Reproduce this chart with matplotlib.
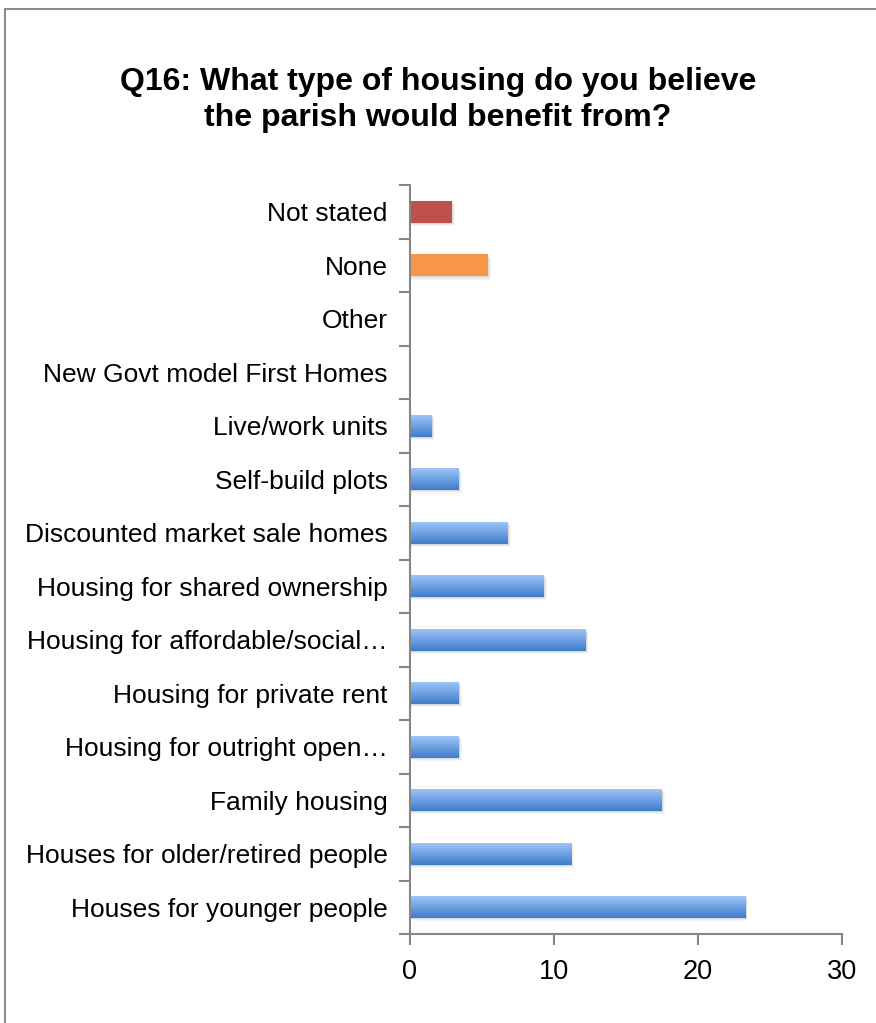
import matplotlib.pyplot as plt
import numpy as np
from matplotlib.patches import Rectangle

plt.rcParams['font.family'] = ['Liberation Sans', 'DejaVu Sans']

categories = [
    "Houses for younger people",
    "Houses for older/retired people",
    "Family housing",
    "Housing for outright open…",
    "Housing for private rent",
    "Housing for affordable/social…",
    "Housing for shared ownership",
    "Discounted market sale homes",
    "Self-build plots",
    "Live/work units",
    "New Govt model First Homes",
    "Other",
    "None",
    "Not stated",
]
values = [23.3, 11.2, 17.5, 3.4, 3.4, 12.2, 9.3, 6.8, 3.4, 1.5, 0, 0, 5.4, 2.9]
bar_colors = ["blue"] * 12 + ["#F79646", "#C0504D"]

axis_grey = "#868686"

fig = plt.figure(figsize=(8.76, 10.23), dpi=100)
ax = fig.add_axes([0.468, 0.087, 0.493, 0.732])

# outer chart frame (runs off the right and bottom edges)
fig.patches.append(Rectangle((5 / 876, -0.05), 1.1, 1 - 9 / 1023 + 0.05,
                             transform=fig.transFigure, fill=False,
                             edgecolor="#8c8c8c", linewidth=1.5))

y = np.arange(len(categories))
h = 0.41

# blue vertical gradient for the main series
grad = np.linspace(0, 1, 64).reshape(-1, 1)
top = np.array([0.62, 0.77, 0.97])
bottom = np.array([0.24, 0.49, 0.80])
grad_img = top + (bottom - top) * grad[..., None]

for yi, v, c in zip(y, values, bar_colors):
    if v <= 0:
        continue
    # soft drop shadow
    for k, a in enumerate([0.07, 0.05, 0.03]):
        ax.add_patch(Rectangle((0, yi - h / 2 - 0.02 - 0.02 * k), v + 0.08 + 0.06 * k, h,
                               facecolor="black", alpha=a, edgecolor="none", zorder=1))
    if c == "blue":
        bar = ax.barh(yi, v, height=h, color="none", edgecolor="none", zorder=2)[0]
        im = ax.imshow(grad_img, extent=(0, v, yi - h / 2, yi + h / 2),
                       aspect="auto", origin="upper", zorder=2)
        im.set_clip_path(bar)
    else:
        ax.barh(yi, v, height=h, color=c, edgecolor="none", zorder=2)

ax.set_xlim(0, 30)
ax.set_ylim(-0.5, len(categories) - 0.5)
ax.set_xticks([0, 10, 20, 30])
ax.set_yticks(y)
ax.set_yticklabels(categories)
ax.set_yticks(np.arange(-0.5, len(categories), 1), minor=True)
ax.tick_params(axis="y", which="major", length=0, pad=16, labelsize=19)
ax.tick_params(axis="y", which="minor", length=8, width=1.5, color=axis_grey)
ax.tick_params(axis="x", length=8, width=1.5, color=axis_grey, labelsize=19.5, pad=10)

for s in ["top", "right"]:
    ax.spines[s].set_visible(False)
for s in ["left", "bottom"]:
    ax.spines[s].set_color(axis_grey)
    ax.spines[s].set_linewidth(1.5)

fig.text(0.5, 0.902, "Q16: What type of housing do you believe\nthe parish would benefit from?",
         ha="center", va="center", fontsize=23, fontweight="bold", linespacing=1.25)

fig.savefig("out.png", dpi=100)
